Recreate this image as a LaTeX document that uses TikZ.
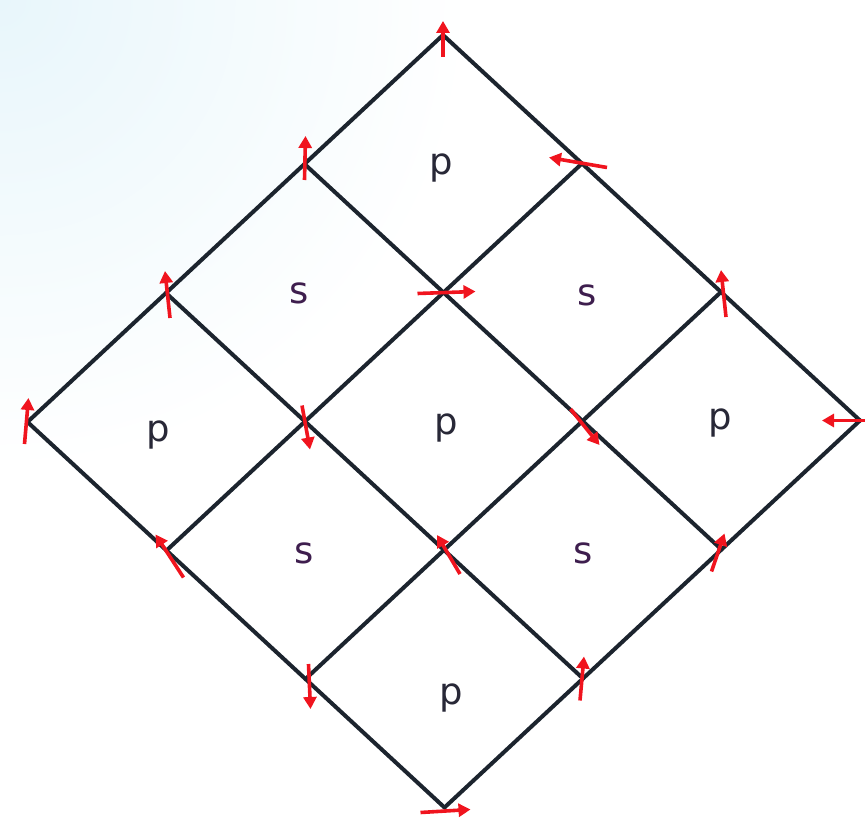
\documentclass[tikz,border=0pt]{standalone}
\usepackage{fontspec}
\setmainfont{DejaVu Sans}
\usetikzlibrary{arrows.meta}
\definecolor{gridline}{RGB}{28,36,46}
\definecolor{arr}{RGB}{240,20,30}
\definecolor{plab}{RGB}{40,40,55}
\definecolor{slab}{RGB}{62,30,78}
\definecolor{bgblue}{RGB}{232,246,251}
\begin{document}
\begin{tikzpicture}[x=1pt,y=-1pt,
  gridedge/.style={draw=gridline,line width=4pt,line cap=round,line join=round},
  spin/.style={draw=arr,line width=3.6pt,-{Triangle[length=12pt,width=13pt]}},
  lab/.style={font=\fontsize{37}{37}\selectfont,inner sep=0pt},
  plabel/.style={lab,text=plab},
  slabel/.style={lab,text=slab}]
\useasboundingbox (0,0) rectangle (865,826);
\begin{scope}
\clip (0,0) rectangle (865,826);
\shade[inner color=bgblue,outer color=white] (0,0) circle (470);
\end{scope}
% vertices
\foreach \i in {0,...,3}{
  \foreach \j in {0,...,3}{
    \coordinate (v\i\j) at ({443-138.5*\i+139*\j},{35+129*\i+128.5*\j});
  }
}
% grid lines
\foreach \k in {0,...,3}{
  \draw[gridedge] (v\k0) -- (v\k3);
  \draw[gridedge] (v0\k) -- (v3\k);
}
% labels
\node[plabel] (f00) at (441,168) {p};
\node[slabel] (f10) at (299,293) {s};
\node[slabel] (f01) at (587,295) {s};
\node[plabel] (f20) at (158,435) {p};
\node[plabel] (f11) at (446,428) {p};
\node[plabel] (f02) at (720,423) {p};
\node[slabel] (f21) at (304,553) {s};
\node[slabel] (f12) at (583,553) {s};
\node[plabel] (f22) at (451,698) {p};
% spins
\draw[spin] ([shift={(0,22)}]v00) -- ([shift={(0,-14)}]v00);
\draw[spin] ([shift={(0,16)}]v10) -- ([shift={(1,-28)}]v10);
\draw[spin] ([shift={(25,4)}]v01) -- ([shift={(-33,-6)}]v01);
\draw[spin] ([shift={(4,25)}]v20) -- ([shift={(-1,-22)}]v20);
\draw[spin] ([shift={(-26,1)}]v11) -- ([shift={(32,-1)}]v11);
\draw[spin] ([shift={(5,25)}]v02) -- ([shift={(0,-22)}]v02);
\draw[spin] ([shift={(-3,22)}]v30) -- ([shift={(1,-24)}]v30);
\draw[spin] ([shift={(-3,-16)}]v21) -- ([shift={(5,28)}]v21);
\draw[spin] ([shift={(-12,-12)}]v12) -- ([shift={(17,24)}]v12);
\draw[spin] ([shift={(5,0)}]v03) -- ([shift={(-38,0)}]v03);
\draw[spin] ([shift={(17,27)}]v31) -- ([shift={(-11,-16)}]v31);
\draw[spin] ([shift={(16,24)}]v22) -- ([shift={(-7,-15)}]v22);
\draw[spin] ([shift={(-10,22)}]v13) -- ([shift={(3,-16)}]v13);
\draw[spin] ([shift={(3,-15)}]v32) -- ([shift={(5,30)}]v32);
\draw[spin] ([shift={(-3,22)}]v23) -- ([shift={(1,-22)}]v23);
\draw[spin] ([shift={(-24,5)}]v33) -- ([shift={(26,2)}]v33);
\end{tikzpicture}
\end{document}
